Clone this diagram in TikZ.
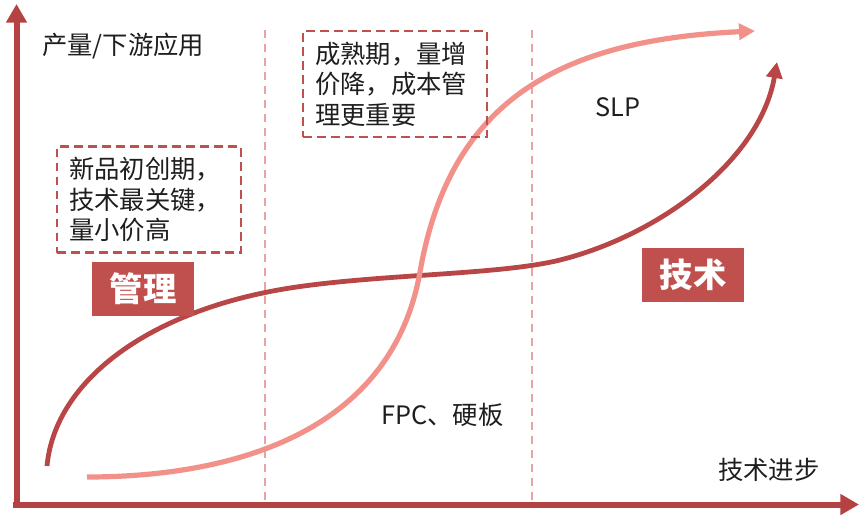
\documentclass[tikz,border=0pt]{standalone}
\usepackage{fontspec}
\setmainfont{Noto Sans CJK SC}
\usetikzlibrary{arrows.meta}
\definecolor{axisred}{HTML}{B54242}
\definecolor{techred}{HTML}{B94646}
\definecolor{lightred}{HTML}{F2908A}
\definecolor{labelred}{HTML}{C0504D}
\definecolor{boxred}{HTML}{C0504D}
\definecolor{sepred}{HTML}{E8A3A3}
\definecolor{txt}{HTML}{1E1E1E}
\tikzset{
  axisline/.style={draw=axisred, line width=4.5pt, -{Triangle[width=15pt,length=14pt]}},
  techcurve/.style={draw=techred, line width=3.6pt, -{Triangle[width=12pt,length=12pt]}},
  slpcurve/.style={draw=lightred, line width=3.9pt, -{Triangle[width=12pt,length=12pt]}},
  sepline/.style={draw=sepred, line width=1.4pt, dash pattern=on 6pt off 4.5pt},
  notebox/.style={draw=boxred, line width=1.6pt, dash pattern=on 6.5pt off 4pt,
    text width=120pt, align=left, inner xsep=9pt, minimum height=79.5pt,
    font=\fontsize{19pt}{23pt}\selectfont, text=txt},
  tagbox/.style={fill=labelred, text=white, minimum width=76pt, minimum height=40.5pt,
    font=\fontsize{25pt}{28pt}\selectfont\bfseries},
  plaintext/.style={inner sep=0pt, anchor=west, text=txt, font=\fontsize{19pt}{23pt}\selectfont}
}
\begin{document}
\begin{tikzpicture}[x=0.75pt,y=-0.75pt]
\useasboundingbox (0,0) rectangle (859,517);
% separators
\coordinate (s1t) at (265,30); \coordinate (s1b) at (265,503);
\coordinate (s2t) at (532,30); \coordinate (s2b) at (532,503);
\draw[sepline] (s1t) -- (s1b);
\draw[sepline] (s2t) -- (s2b);
% axes
\coordinate (o1) at (16.5,507.5);
\coordinate (ytip) at (16.5,4);
\coordinate (o2) at (13,504.5);
\coordinate (xtip) at (859,504.5);
\draw[axisline] (o1) -- (ytip);
\draw[axisline] (o2) -- (xtip);
% curves
\coordinate (tstart) at (47,466);
\coordinate (tm1) at (290,288);
\coordinate (tm2) at (560,260);
\coordinate (tend) at (777,62);
\draw[techcurve] (tstart) .. controls (55,380) and (150,310) .. (tm1)
  .. controls (380,274) and (500,275) .. (tm2)
  .. controls (660,235) and (760,160) .. (tend);
\coordinate (sstart) at (87,477);
\coordinate (sm) at (420,272);
\coordinate (send) at (755,31);
\draw[slpcurve] (sstart) .. controls (220,477) and (390,440) .. (sm)
  .. controls (450,100) and (560,40) .. (send);
% texts
\node[plaintext] (ylab) at (42,46) {产量/下游应用};
\node[plaintext] (xlab) at (718,470) {技术进步};
\node[plaintext] (slp) at (595,107) {SLP};
\node[plaintext] (fpc) at (381,415) {FPC、硬板};
\node[notebox] (n1) at (149,199.5) {新品初创期，\\技术最关键，\\量小价高};
\node[notebox] (n2) at (395,84) {成熟期，量增\\价降，成本管\\理更重要};
\node[tagbox] (mg) at (143,289) {管理};
\node[tagbox] (js) at (693,275) {技术};
\end{tikzpicture}
\end{document}
